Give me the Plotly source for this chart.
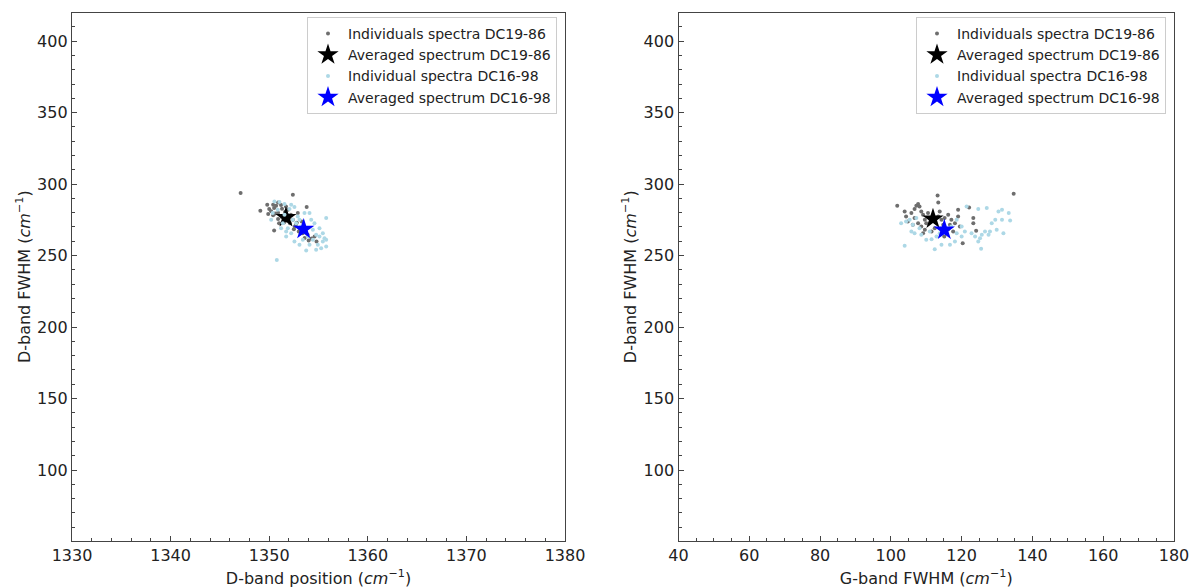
import plotly.graph_objects as go

# ---------------- data ----------------
# Left panel: D-band position vs D-band FWHM
dc19_dpos = [1347.1, 1352.4, 1349.8, 1350.4, 1349.1, 1353.8, 1350.5, 1354.6, 1354.8,
             1350.9, 1351.2, 1350.0, 1350.5, 1350.9, 1351.3, 1351.6, 1350.4, 1350.9, 1351.3,
             1351.6, 1352.1, 1352.4, 1351.9, 1352.2, 1352.7, 1353.1, 1353.4, 1353.9, 1354.3,
             1351.0, 1350.7, 1351.7, 1352.9, 1350.2, 1349.9, 1352.5, 1353.6, 1351.4, 1352.0,
             1352.8, 1353.3, 1350.6, 1351.8, 1352.6, 1354.0, 1353.0, 1351.5]
dc19_dfwhm_l = [293.8, 292.6, 285.6, 285.6, 281.3, 283.9, 267.5, 263.3, 259.8,
                287.2, 285.4, 282.5, 283.3, 280.0, 282.8, 280.5, 278.2, 275.5, 276.8,
                274.0, 272.6, 275.0, 282.0, 278.5, 271.5, 269.2, 265.6, 264.5, 262.0,
                272.7, 284.9, 284.4, 279.7, 281.0, 279.0, 268.5, 262.3, 277.9, 276.1,
                273.0, 273.8, 279.4, 278.7, 270.2, 260.5, 266.8, 273.2]

dc16_dpos = [1350.53, 1351.04, 1351.55, 1352.23, 1352.06, 1352.56, 1350.20, 1351.21, 1351.72,
             1352.23, 1351.89, 1352.73, 1353.07, 1353.58, 1354.09, 1354.26, 1354.59, 1355.10,
             1355.78, 1355.44, 1355.10, 1355.61, 1354.43, 1354.93, 1355.27, 1355.78, 1354.76,
             1353.75, 1353.07, 1352.56, 1353.41, 1353.92, 1351.72, 1351.38, 1352.90, 1353.24,
             1353.75, 1354.43, 1354.76, 1355.44, 1354.09, 1350.77, 1350.36, 1350.87, 1351.55,
             1352.39, 1355.78]
dc16_dfwhm_l = [287.9, 287.4, 286.0, 285.6, 282.5, 283.9, 275.0, 269.2, 266.8,
                265.7, 269.2, 272.7, 275.0, 279.7, 279.7, 275.0, 272.7, 269.2,
                276.2, 265.7, 263.3, 262.2, 261.0, 257.5, 255.1, 256.3, 254.0,
                253.5, 257.5, 259.8, 261.0, 263.3, 263.3, 272.7, 277.4, 270.3,
                269.2, 268.0, 264.5, 259.8, 257.5, 246.9, 279.7, 282.0, 278.5,
                275.0, 261.0]

avg19_dpos, avg19_dfwhm_l = [1351.7], [276.6]
avg16_dpos, avg16_dfwhm_l = [1353.5], [268.5]

# Right panel: G-band FWHM vs D-band FWHM
dc19_gfwhm = [101.8, 113.2, 113.4, 134.7, 122.1, 123.3, 123.3, 124.1, 120.3, 115.1,
              103.9, 104.3, 104.8, 105.8, 106.7, 107.2, 107.7, 108.1, 108.6, 109.1,
              109.6, 110.0, 110.5, 110.9, 106.7, 107.7, 108.6, 109.6, 113.4, 114.3,
              115.2, 116.2, 117.1, 118.1, 119.0, 119.5, 117.6, 116.2, 112.4, 111.5,
              114.8, 109.1, 106.2, 119.0, 116.7, 113.8]
dc19_dfwhm_r = [284.9, 292.1, 287.2, 293.3, 283.7, 276.2, 272.7, 267.3, 258.7, 263.3,
                280.9, 277.4, 273.9, 279.7, 282.5, 284.9, 286.0, 284.4, 280.9, 278.5,
                275.0, 272.7, 279.7, 276.2, 276.2, 272.7, 270.3, 268.0, 277.4, 275.0,
                276.2, 278.5, 275.0, 272.7, 277.4, 270.3, 266.8, 268.5, 269.2, 266.8,
                271.5, 265.7, 271.5, 282.0, 271.5, 280.9]

dc16_gfwhm = [102.9, 104.3, 105.3, 106.2, 107.2, 106.7, 108.6, 110.0, 111.5, 112.9,
              113.8, 115.7, 117.1, 118.6, 120.0, 120.9, 121.4, 114.3, 116.7, 118.1,
              103.9, 112.4, 125.5, 124.7, 127.1, 130.4, 131.4, 133.3, 129.5, 131.4,
              133.7, 128.5, 126.6, 129.9, 128.0, 125.7, 131.8, 125.2, 127.6, 122.8,
              123.8, 124.7, 118.6, 120.0, 111.0, 105.8, 108.1]
dc16_dfwhm_r = [272.7, 273.9, 275.0, 271.5, 276.2, 265.7, 264.5, 261.0, 261.5, 263.3,
                265.7, 266.8, 270.3, 265.7, 263.3, 266.8, 284.4, 257.5, 257.5, 259.8,
                256.8, 254.5, 254.7, 282.5, 283.2, 280.9, 282.0, 279.7, 275.0, 275.0,
                274.6, 272.7, 266.8, 268.0, 266.8, 264.5, 265.7, 262.2, 264.5, 265.7,
                263.3, 259.8, 275.0, 270.3, 266.8, 266.8, 269.2]

avg19_gfwhm, avg19_dfwhm_r = [111.9], [275.7]
avg16_gfwhm, avg16_dfwhm_r = [115.1], [268.0]

labels = ["Individuals spectra DC19-86", "Averaged spectrum DC19-86",
          "Individual spectra DC16-98", "Averaged spectrum DC16-98"]

# ---------------- figure ----------------
GRAY = "#6e6e6e"
LBLUE = "#add8e6"
FONT = "DejaVu Sans"

W, H = 1193, 588

fig = go.Figure()


def add_panel(xa, ya, legend, x19, y19, x16, y16, ax19, ay19, ax16, ay16):
    fig.add_trace(go.Scatter(x=x19, y=y19, mode="markers", name=labels[0],
                             marker=dict(color=GRAY, size=4), xaxis=xa, yaxis=ya, legend=legend))
    fig.add_trace(go.Scatter(x=ax19, y=ay19, mode="markers", name=labels[1],
                             marker=dict(color="black", size=16, symbol="star"),
                             xaxis=xa, yaxis=ya, legend=legend))
    fig.add_trace(go.Scatter(x=x16, y=y16, mode="markers", name=labels[2],
                             marker=dict(color=LBLUE, size=4), xaxis=xa, yaxis=ya, legend=legend))
    fig.add_trace(go.Scatter(x=ax16, y=ay16, mode="markers", name=labels[3],
                             marker=dict(color="blue", size=16, symbol="star"),
                             xaxis=xa, yaxis=ya, legend=legend))


add_panel("x", "y", "legend", dc19_dpos, dc19_dfwhm_l, dc16_dpos, dc16_dfwhm_l,
          avg19_dpos, avg19_dfwhm_l, avg16_dpos, avg16_dfwhm_l)
add_panel("x2", "y2", "legend2", dc19_gfwhm, dc19_dfwhm_r, dc16_gfwhm, dc16_dfwhm_r,
          avg19_gfwhm, avg19_dfwhm_r, avg16_gfwhm, avg16_dfwhm_r)

axis_common = dict(showline=True, linecolor="#444", linewidth=1.3, mirror=True,
                   ticks="inside", ticklen=5, tickwidth=1, tickcolor="#444",
                   showgrid=False, zeroline=False, automargin=False,
                   tickfont=dict(family=FONT, size=16, color="#222"),
                   title_font=dict(family=FONT, size=16, color="#222"))


def px(sx):
    return sx / W


def py(sy):
    return 1 - sy / H


ytitle = "D-band FWHM (<i>cm</i><sup>\u22121</sup>)"
Y0, Y1 = py(541), py(12.5)
legfont = dict(family=FONT, size=14, color="#222")

fig.update_layout(
    template="none",
    width=W, height=H,
    margin=dict(l=0, r=0, t=0, b=0, autoexpand=False),
    paper_bgcolor="white", plot_bgcolor="white",
    font=dict(family=FONT, color="#222"),
    xaxis=dict(domain=[px(72), px(565)], range=[1330, 1380], dtick=10,
               minor=dict(dtick=2, ticks="inside", ticklen=3, tickcolor="#444"),
               title=dict(text="D-band position (<i>cm</i><sup>\u22121</sup>)"),
               anchor="y", **axis_common),
    yaxis=dict(domain=[Y0, Y1], range=[50.4, 420], dtick=50,
               minor=dict(dtick=10, ticks="inside", ticklen=3, tickcolor="#444"),
               title=dict(text=ytitle), anchor="x", **axis_common),
    xaxis2=dict(domain=[px(678.5), px(1174)], range=[40, 180], dtick=20,
                minor=dict(dtick=5, ticks="inside", ticklen=3, tickcolor="#444"),
                title=dict(text="G-band FWHM (<i>cm</i><sup>\u22121</sup>)"),
                anchor="y2", **axis_common),
    yaxis2=dict(domain=[Y0, Y1], range=[50.4, 420], dtick=50,
                minor=dict(dtick=10, ticks="inside", ticklen=3, tickcolor="#444"),
                title=dict(text=ytitle), anchor="x2", **axis_common),
    legend=dict(x=px(565 - 8), y=py(17), xanchor="right", yanchor="top",
                bgcolor="white", bordercolor="#cccccc", borderwidth=1,
                font=legfont, tracegroupgap=0, itemwidth=30),
    legend2=dict(x=px(1174 - 8), y=py(17), xanchor="right", yanchor="top",
                 bgcolor="white", bordercolor="#cccccc", borderwidth=1,
                 font=legfont, tracegroupgap=0, itemwidth=30),
)

# remove the default 8px page margin so the 1193x588 figure fills the window exactly
fig.write_html("out.html",
               config={"displayModeBar": False},
               post_script="document.body.style.margin='0';document.body.style.overflow='hidden';")
